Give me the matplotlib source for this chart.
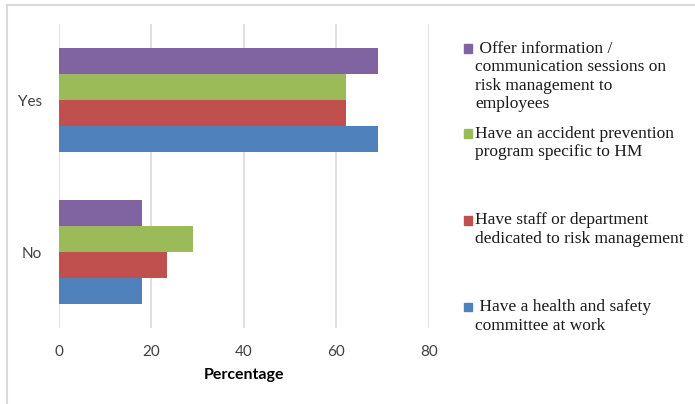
import numpy as np
import matplotlib.pyplot as plt
from matplotlib.patches import Rectangle
from matplotlib.lines import Line2D

# data
categories = ["No", "Yes"]
series_labels = [
    " Have a health and safety\ncommittee at work",
    "Have staff or department\ndedicated to risk management",
    "Have an accident prevention\nprogram specific to HM",
    " Offer information /\ncommunication sessions on\nrisk management to\nemployees",
]
series_values = [
    [18, 69],    # health and safety committee
    [23.5, 62],  # staff / department
    [29, 62],    # accident prevention program
    [18, 69],    # information sessions
]
colors = ["#4f81bd", "#c0504d", "#9bbb59", "#8064a2"]
xticks = [0, 20, 40, 60, 80]

W, H = 695, 404
fig = plt.figure(figsize=(W / 100, H / 100), dpi=100)
ax = fig.add_axes([58.5 / W, 1 - 328 / H, (429 - 58.5) / W, (328 - 24) / H])

y = np.arange(len(categories))
h = 0.17
for i, (vals, c) in enumerate(zip(series_values, colors)):
    ax.barh(y + (i - 1.5) * h, vals, height=h, color=c, zorder=3)

ax.set_xlim(0, 80)
ax.set_ylim(-0.5, 1.5)
ax.set_xticks(xticks)
ax.set_yticks(y)
ax.set_yticklabels(categories)
ax.xaxis.grid(True, color="#d9d9d9", lw=1.2, zorder=0)
for s in ax.spines.values():
    s.set_visible(False)
ax.tick_params(axis="both", length=0, labelsize=11, labelcolor="#404040")
ax.tick_params(axis="x", pad=12)
ax.tick_params(axis="y", pad=12)
for lab in ax.get_xticklabels() + ax.get_yticklabels():
    lab.set_family("Lato")
ax.set_xlabel("Percentage", family="Lato", fontweight="bold", fontsize=11.5,
              labelpad=7)

# legend, drawn by hand to keep Excel's uneven spacing
line_centers = [306.7, 220, 133, 48.3]
for lab, c, yc in zip(series_labels, colors, line_centers):
    fig.patches.append(Rectangle((463.5 / W, 1 - (yc + 4.5) / H), 8.5 / W, 8.5 / H,
                                 transform=fig.transFigure, color=c))
    fig.text(475 / W, 1 - (yc - 7.5) / H, lab, family="Liberation Serif",
             fontsize=12.5, va="top", ha="left", linespacing=1.2, color="#1a1a1a")

# outer frame (left and top only)
fig.add_artist(Line2D([7 / W, 7 / W], [0, 1 - 5 / H], transform=fig.transFigure,
                      color="#d9d9d9", lw=1.5))
fig.add_artist(Line2D([7 / W, 1], [1 - 5 / H, 1 - 5 / H], transform=fig.transFigure,
                      color="#d9d9d9", lw=1.5))

fig.savefig("out.png", dpi=100)
